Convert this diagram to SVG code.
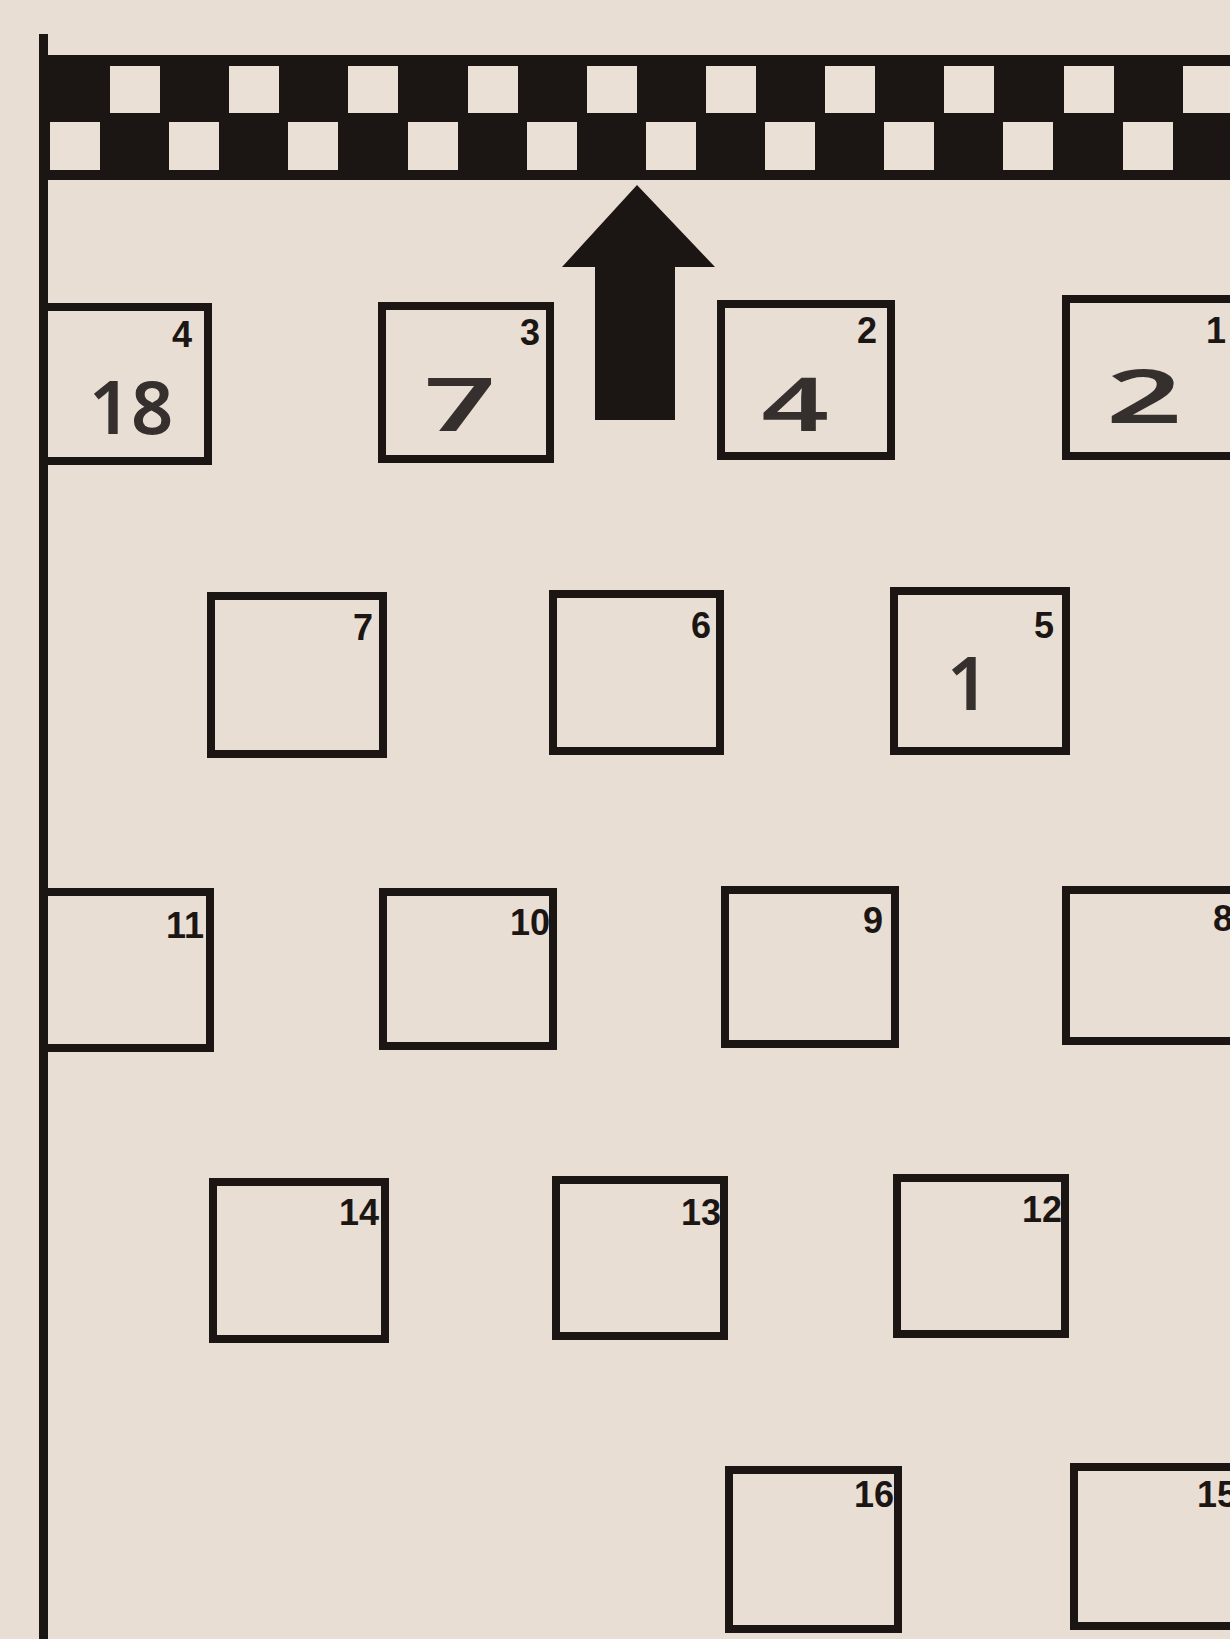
<svg xmlns="http://www.w3.org/2000/svg" width="1230" height="1639" viewBox="0 0 1230 1639">
<style>
.bg{fill:#e9ded4}
.ink{fill:#1b1614}
.w{fill:#ebe0d6}
.box{fill:none;stroke:#1b1614;stroke-width:8;stroke-linejoin:miter}
.lbl{font-family:"Liberation Sans","DejaVu Sans",sans-serif;font-weight:bold;font-size:36px;fill:#1b1614;text-anchor:end}
.hand{font-family:"Noto Sans","DejaVu Sans",sans-serif;font-weight:600;font-size:74px;fill:#35302d;text-anchor:middle}
</style>
<rect class="bg" x="0" y="0" width="1230" height="1639"/>
<g id="frame">
<rect class="ink" x="39" y="34" width="9" height="1605"/>
<rect class="ink" x="44" y="55" width="1186" height="125"/>
<g id="checks-row1" class="w">
<rect x="110" y="66" width="50" height="47"/>
<rect x="229" y="66" width="50" height="47"/>
<rect x="348" y="66" width="50" height="47"/>
<rect x="468" y="66" width="50" height="47"/>
<rect x="587" y="66" width="50" height="47"/>
<rect x="706" y="66" width="50" height="47"/>
<rect x="825" y="66" width="50" height="47"/>
<rect x="944" y="66" width="50" height="47"/>
<rect x="1064" y="66" width="50" height="47"/>
<rect x="1183" y="66" width="50" height="47"/>
</g>
<g id="checks-row2" class="w">
<rect x="50" y="122" width="50" height="48"/>
<rect x="169" y="122" width="50" height="48"/>
<rect x="288" y="122" width="50" height="48"/>
<rect x="408" y="122" width="50" height="48"/>
<rect x="527" y="122" width="50" height="48"/>
<rect x="646" y="122" width="50" height="48"/>
<rect x="765" y="122" width="50" height="48"/>
<rect x="884" y="122" width="50" height="48"/>
<rect x="1003" y="122" width="50" height="48"/>
<rect x="1123" y="122" width="50" height="48"/>
</g>
</g>
<g id="connectors">
<polygon class="ink" points="637,185 715,267 675,267 675,420 595,420 595,267 562,267"/>
</g>
<g id="n4"><rect class="box" x="44" y="307" width="164" height="154"/><text class="lbl" x="192" y="347" font-size="32">4</text><text class="hand" x="131" y="434" font-size="80">18</text></g>
<g id="n3"><rect class="box" x="382" y="306" width="168" height="153"/><text class="lbl" x="540" y="345">3</text><text class="hand" transform="translate(460,431) scale(1.7,1)" x="0" y="0">7</text></g>
<g id="n2"><rect class="box" x="721" y="304" width="170" height="152"/><text class="lbl" x="877" y="343">2</text><text class="hand" transform="translate(795,431) scale(1.6,1)" x="0" y="0">4</text></g>
<g id="n1"><rect class="box" x="1066" y="299" width="180" height="157"/><text class="lbl" x="1226" y="343">1</text><text class="hand" transform="translate(1144,423) scale(1.8,1)" x="0" y="0">2</text></g>
<g id="n7"><rect class="box" x="211" y="596" width="172" height="158"/><text class="lbl" x="373" y="640">7</text></g>
<g id="n6"><rect class="box" x="553" y="594" width="167" height="157"/><text class="lbl" x="711" y="638">6</text></g>
<g id="n5"><rect class="box" x="894" y="591" width="172" height="160"/><text class="lbl" x="1054" y="638">5</text><text class="hand" x="968" y="710" font-size="78">1</text></g>
<g id="n11"><rect class="box" x="44" y="892" width="166" height="156"/><text class="lbl" x="204" y="938">11</text></g>
<g id="n10"><rect class="box" x="383" y="892" width="170" height="154"/><text class="lbl" x="550" y="935">10</text></g>
<g id="n9"><rect class="box" x="725" y="890" width="170" height="154"/><text class="lbl" x="883" y="933">9</text></g>
<g id="n8"><rect class="box" x="1066" y="890" width="180" height="151"/><text class="lbl" x="1233" y="931">8</text></g>
<g id="n14"><rect class="box" x="213" y="1182" width="172" height="157"/><text class="lbl" x="379" y="1225">14</text></g>
<g id="n13"><rect class="box" x="556" y="1180" width="168" height="156"/><text class="lbl" x="721" y="1225">13</text></g>
<g id="n12"><rect class="box" x="897" y="1178" width="168" height="156"/><text class="lbl" x="1062" y="1222">12</text></g>
<g id="n16"><rect class="box" x="729" y="1470" width="169" height="159"/><text class="lbl" x="894" y="1507">16</text></g>
<g id="n15"><rect class="box" x="1074" y="1467" width="172" height="159"/><text class="lbl" x="1237" y="1507">15</text></g>
</svg>
